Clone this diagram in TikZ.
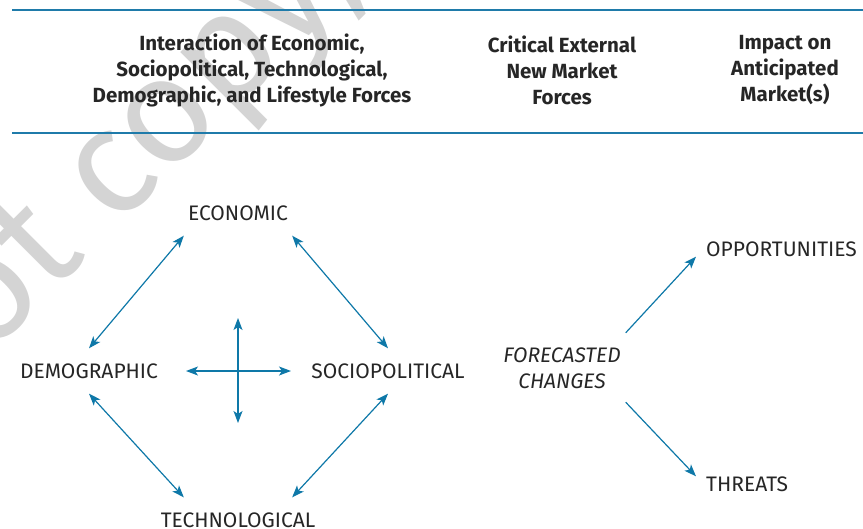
\documentclass[tikz,border=0pt]{standalone}
\usepackage{fontspec}
\setmainfont{Fira Sans}
\usetikzlibrary{arrows.meta}

\definecolor{rulecol}{HTML}{1F7BAA}
\definecolor{arrowcol}{HTML}{0E78A8}
\definecolor{inkcol}{HTML}{262626}
\definecolor{markcol}{HTML}{D4D4D4}

\tikzset{
  head/.style={font=\bfseries\fontsize{20.5}{26}\selectfont, text=inkcol, align=center},
  force/.style={font=\fontsize{21}{26}\selectfont, text=inkcol, text height=15pt, text depth=0pt, inner xsep=1pt, inner ysep=15pt},
  outcome/.style={font=\fontsize{21}{26}\selectfont, text=inkcol, text height=15pt, text depth=0pt, inner xsep=10pt, inner ysep=0pt, anchor=west},
  link/.style={draw=arrowcol, line width=1.2pt},
}

\begin{document}
\begin{tikzpicture}[x=1pt, y=-1pt, >={Stealth[length=12pt,width=9pt,inset=3pt]}]
  \useasboundingbox (0,0) rectangle (863,528);

  % watermark
  \begin{scope}
    \clip (0,0) rectangle (863,528);
    \node[anchor=base east, rotate=45, text=markcol, font=\fontsize{150}{150}\selectfont] (mark) at (365,-20) {Do not copy,};
  \end{scope}

  % header rules and column titles
  \draw[rulecol, line width=1.2pt] (12,10) -- (863,10);
  \draw[rulecol, line width=1.2pt] (12,133) -- (863,133);
  \node[head] (h1) at (252,70) {Interaction of Economic,\\Sociopolitical, Technological,\\Demographic, and Lifestyle Forces};
  \node[head] (h2) at (562,70) {Critical External\\New Market\\Forces};
  \node[head] (h3) at (785,70) {Impact on\\Anticipated\\Market(s)};

  % the four forces
  \node[force, text width=106pt, align=center] (eco) at (238,213) {ECONOMIC};
  \node[force] (demo) at (89,371) {DEMOGRAPHIC};
  \node[force] (socio) at (388,371) {SOCIOPOLITICAL};
  \node[force] (tech) at (238,520) {TECHNOLOGICAL};

  \draw[link,<->] (eco.south west) -- (demo.north);
  \draw[link,<->] (eco.south east) -- (socio.north);
  \draw[link,<->] (demo.south) -- (eco.south west |- tech.north);
  \draw[link,<->] (socio.south) -- (eco.south east |- tech.north);

  % cross in the middle
  \coordinate (hubL) at (186,371);
  \coordinate (hubR) at (291,371);
  \coordinate (hubT) at (238,318);
  \coordinate (hubB) at (238,423);
  \draw[link,<->] (hubL) -- (hubR);
  \draw[link,<->] (hubT) -- (hubB);

  % forecast and its outcomes
  \node[force, font=\itshape\fontsize{21}{26}\selectfont, text width=124pt, align=center, text depth=26pt, inner xsep=1.5pt, inner ysep=14pt] (fc) at (562,367.5) {FORECASTED\\CHANGES};
  \node[outcome] (opp) at (696,249) {OPPORTUNITIES};
  \node[outcome] (thr) at (696,484) {THREATS};

  \draw[link,->] (fc.north east) -- (opp.south west);
  \draw[link,->] (fc.south east) -- (thr.north west);
\end{tikzpicture}
\end{document}
